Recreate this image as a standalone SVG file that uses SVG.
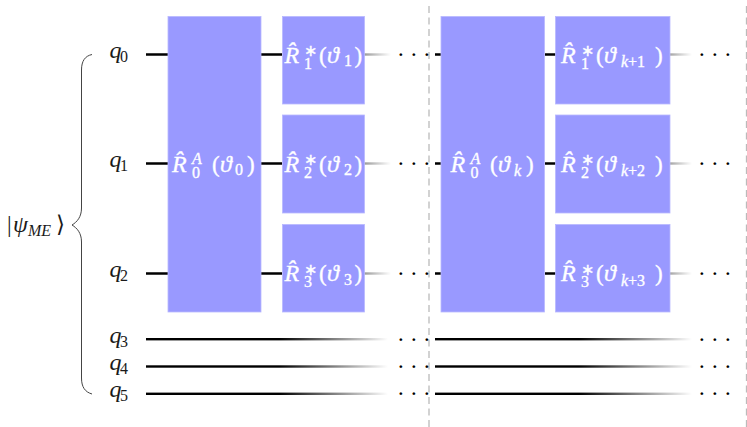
<svg xmlns="http://www.w3.org/2000/svg" width="747" height="427" viewBox="0 0 747 427" font-family="'Liberation Serif', 'Times New Roman', serif">
<style>
.g{fill:#9999ff;stroke:#b8b8ff;stroke-width:.8}
.w{stroke:#000;stroke-width:2.4;fill:none}
.d{stroke:#bbb;stroke-width:1.3;stroke-dasharray:7 4.5;fill:none}
.l{font-family:'Liberation Serif','Times New Roman',serif;font-size:23px;fill:#1a1a1a}
.t text{fill:#fff;stroke:#fff;stroke-width:.35}
.m{font-size:24px;font-style:italic}
.si{font-size:16px;font-style:italic}
.n{font-size:16px;font-style:normal}
.e{font-family:'Liberation Serif',serif;font-size:17px;font-weight:bold;letter-spacing:7.3px;fill:#000}
</style>
<defs>
<linearGradient id="f1" gradientUnits="userSpaceOnUse" x1="146" x2="388" y1="0" y2="0"><stop offset="0.55" stop-color="#000"/><stop offset="1" stop-color="#000" stop-opacity="0"/></linearGradient>
<linearGradient id="f2" gradientUnits="userSpaceOnUse" x1="435" x2="692" y1="0" y2="0"><stop offset="0.56" stop-color="#000"/><stop offset="1" stop-color="#000" stop-opacity="0"/></linearGradient>
<linearGradient id="t1" gradientUnits="userSpaceOnUse" x1="364" x2="391" y1="0" y2="0"><stop offset="0" stop-color="#000" stop-opacity=".4"/><stop offset="1" stop-color="#000" stop-opacity="0"/></linearGradient>
<linearGradient id="t2" gradientUnits="userSpaceOnUse" x1="670" x2="692" y1="0" y2="0"><stop offset="0" stop-color="#000" stop-opacity=".35"/><stop offset="1" stop-color="#000" stop-opacity="0"/></linearGradient>
</defs>
<g id="connectors">
<path class="w" d="M146 54.5H168M146 163.5H168M146 273.5H168M261 54.5H282M261 163.500H282M261 273.5H282"/>
<path class="w" d="M435 54.5H441M435 163.5H441M435 273.5H441M545 54.5H556M545 163.5H556M545 273.5H556"/>
<rect x="364" y="53.3" width="27" height="2.4" fill="url(#t1)"/>
<rect x="364" y="162.3" width="27" height="2.4" fill="url(#t1)"/>
<rect x="364" y="272.3" width="27" height="2.4" fill="url(#t1)"/>
<rect x="670" y="53.3" width="22" height="2.4" fill="url(#t2)"/>
<rect x="670" y="162.3" width="22" height="2.4" fill="url(#t2)"/>
<rect x="670" y="272.3" width="22" height="2.4" fill="url(#t2)"/>
<rect x="146" y="338" width="242" height="2.4" fill="url(#f1)"/>
<rect x="146" y="365.3" width="242" height="2.4" fill="url(#f1)"/>
<rect x="146" y="392.6" width="242" height="2.4" fill="url(#f1)"/>
<rect x="435" y="338" width="257" height="2.4" fill="url(#f2)"/>
<rect x="435" y="365.3" width="257" height="2.4" fill="url(#f2)"/>
<rect x="435" y="392.6" width="257" height="2.4" fill="url(#f2)"/>
</g>
<g id="separators">
<path class="d" d="M429 6V427"/>
<path class="d" d="M746.500 6V427"/>
</g>
<g id="brace"><path d="M92 54.500C85 56 81.500 61 81.500 70V208C81.500 217 77 222 72 225C77 228 81.500 233 81.500 242V378C81.500 387 85 392 92 394" fill="none" stroke="#444" stroke-width="1"/></g>
<g id="state">
<text class="l" x="7" y="232">|<tspan class="m" x="13" y="232">ψ</tspan><tspan class="si" x="28" y="236">ME</tspan><tspan x="56" y="232">⟩</tspan></text>
</g>
<g id="q0"><text class="l m" x="109.500" y="58">q<tspan class="n" x="120" y="61.500">0</tspan></text></g>
<g id="q1"><text class="l m" x="109.500" y="167">q<tspan class="n" x="120" y="170.500">1</tspan></text></g>
<g id="q2"><text class="l m" x="109.500" y="277">q<tspan class="n" x="120" y="280.500">2</tspan></text></g>
<g id="q3"><text class="l m" x="109.500" y="343">q<tspan class="n" x="120" y="346.500">3</tspan></text></g>
<g id="q4"><text class="l m" x="109.500" y="370">q<tspan class="n" x="120" y="373.500">4</tspan></text></g>
<g id="q5"><text class="l m" x="109.500" y="397">q<tspan class="n" x="120" y="400.500">5</tspan></text></g>
<g id="gateA0" class="t"><rect class="g" x="168" y="16.500" width="93" height="295.500"/><text class="l" x="172" y="171.500"><tspan class="m">R̂</tspan><tspan class="si" x="192" y="164">A</tspan><tspan class="n" x="192" y="178">0</tspan><tspan x="212" y="171.500">(</tspan><tspan class="m" x="220" y="171.500">ϑ</tspan><tspan class="n" x="235" y="175">0</tspan><tspan x="247" y="171.500">)</tspan></text></g>
<g id="gate1" class="t"><rect class="g" x="282.500" y="16.500" width="82" height="87.500"/><text class="l" x="284.500" y="62.500"><tspan class="m">R̂</tspan><tspan class="n" x="304" y="56">∗</tspan><tspan class="n" x="304" y="68.500">1</tspan><tspan x="319" y="62.500">(</tspan><tspan class="m" x="327" y="62.500">ϑ</tspan><tspan class="n" x="344" y="66">1</tspan><tspan x="354.500" y="62.500">)</tspan></text></g>
<g id="gate2" class="t"><rect class="g" x="282.500" y="115" width="82" height="98"/><text class="l" x="284.500" y="171.500"><tspan class="m">R̂</tspan><tspan class="n" x="304" y="165">∗</tspan><tspan class="n" x="304" y="177.500">2</tspan><tspan x="319" y="171.500">(</tspan><tspan class="m" x="327" y="171.500">ϑ</tspan><tspan class="n" x="344" y="175">2</tspan><tspan x="354.500" y="171.500">)</tspan></text></g>
<g id="gate3" class="t"><rect class="g" x="282.500" y="224.500" width="82" height="87.500"/><text class="l" x="284.500" y="281"><tspan class="m">R̂</tspan><tspan class="n" x="304" y="274.500">∗</tspan><tspan class="n" x="304" y="287">3</tspan><tspan x="319" y="281">(</tspan><tspan class="m" x="327" y="281">ϑ</tspan><tspan class="n" x="344" y="284.500">3</tspan><tspan x="354.500" y="281">)</tspan></text></g>
<g id="gateA1" class="t"><rect class="g" x="441" y="16.500" width="103.500" height="295.500"/><text class="l" x="450.500" y="171.500"><tspan class="m">R̂</tspan><tspan class="si" x="470.500" y="164">A</tspan><tspan class="n" x="470.500" y="178">0</tspan><tspan x="490" y="171.500">(</tspan><tspan class="m" x="498" y="171.500">ϑ</tspan><tspan class="si" x="514" y="175.500">k</tspan><tspan x="526" y="171.500">)</tspan></text></g>
<g id="gate4" class="t"><rect class="g" x="555.500" y="16.500" width="114.500" height="87.500"/><text class="l" x="561" y="62.500"><tspan class="m">R̂</tspan><tspan class="n" x="581" y="56">∗</tspan><tspan class="n" x="581" y="68.500">1</tspan><tspan x="596" y="62.500">(</tspan><tspan class="m" x="604" y="62.500">ϑ</tspan><tspan class="si" x="621" y="67">k</tspan><tspan class="n" x="628" y="67">+1</tspan><tspan x="655" y="62.500">)</tspan></text></g>
<g id="gate5" class="t"><rect class="g" x="555.500" y="115" width="114.500" height="98"/><text class="l" x="561" y="171.500"><tspan class="m">R̂</tspan><tspan class="n" x="581" y="165">∗</tspan><tspan class="n" x="581" y="177.500">2</tspan><tspan x="596" y="171.500">(</tspan><tspan class="m" x="604" y="171.500">ϑ</tspan><tspan class="si" x="621" y="176">k</tspan><tspan class="n" x="628" y="176">+2</tspan><tspan x="655" y="171.500">)</tspan></text></g>
<g id="gate6" class="t"><rect class="g" x="555.500" y="224.500" width="114.500" height="87.500"/><text class="l" x="561" y="281"><tspan class="m">R̂</tspan><tspan class="n" x="581" y="274.500">∗</tspan><tspan class="n" x="581" y="287">3</tspan><tspan x="596" y="281">(</tspan><tspan class="m" x="604" y="281">ϑ</tspan><tspan class="si" x="621" y="285.500">k</tspan><tspan class="n" x="628" y="285.500">+3</tspan><tspan x="655" y="281">)</tspan></text></g>
<g id="dots">
<text class="e" x="398" y="60">···</text><text class="e" x="398" y="169">···</text><text class="e" x="398" y="279">···</text><text class="e" x="398" y="344.500">···</text><text class="e" x="398" y="371.500">···</text><text class="e" x="398" y="398.500">···</text>
<text class="e" x="699" y="60">···</text><text class="e" x="699" y="169">···</text><text class="e" x="699" y="279">···</text><text class="e" x="699" y="344.500">···</text><text class="e" x="699" y="371.500">···</text><text class="e" x="699" y="398.500">···</text>
</g>
</svg>
